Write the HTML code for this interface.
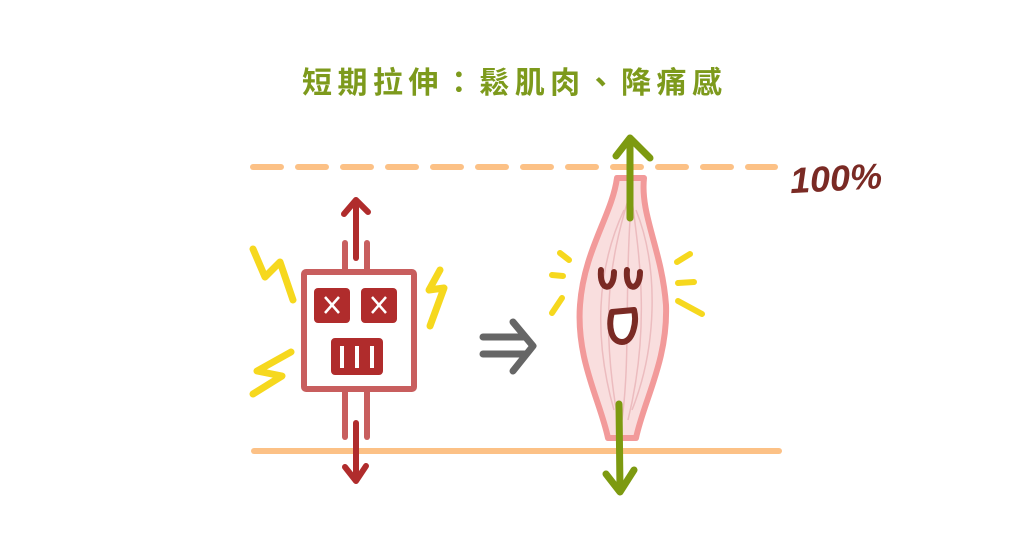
<!DOCTYPE html>
<html><head><meta charset="utf-8"><style>
html,body{margin:0;padding:0;background:#fff;width:1024px;height:536px;overflow:hidden}
</style></head><body>
<svg width="1024" height="536" viewBox="0 0 1024 536" xmlns="http://www.w3.org/2000/svg">
<text x="302" y="93" font-family="'Liberation Sans','Noto Sans CJK TC',sans-serif" font-size="30" font-weight="bold" fill="#7d9a1c" textLength="420" lengthAdjust="spacing">短期拉伸：鬆肌肉、降痛感</text>
<line x1="253" y1="167" x2="775" y2="167" stroke="#fcc186" stroke-width="6" stroke-linecap="round" stroke-dasharray="28 17"/>
<line x1="254" y1="451" x2="779" y2="451" stroke="#fcc186" stroke-width="6" stroke-linecap="round"/>
<text x="790" y="191" font-family="'Liberation Sans',sans-serif" font-size="36" font-weight="bold" font-style="italic" fill="#7a2a24" transform="rotate(-3 830 180)">100%</text>

<g stroke="#c85e5e" stroke-width="6" fill="none" stroke-linecap="round">
<line x1="345" y1="243" x2="345" y2="272"/><line x1="367" y1="243" x2="367" y2="272"/>
<line x1="345" y1="390" x2="345" y2="437"/><line x1="367" y1="390" x2="367" y2="437"/>
<rect x="304" y="272" width="110" height="117" rx="2"/>
</g>
<g fill="#b02c2c">
<rect x="314" y="288" width="36" height="35" rx="4"/>
<rect x="361" y="288" width="36" height="35" rx="4"/>
<rect x="331" y="338" width="52" height="37" rx="4"/>
</g>
<g stroke="#fff" stroke-width="2.5">
<line x1="325" y1="297" x2="339" y2="313"/><line x1="339" y1="297" x2="325" y2="313"/>
<line x1="372" y1="297" x2="386" y2="313"/><line x1="386" y1="297" x2="372" y2="313"/>
</g>
<g fill="#fff"><rect x="340" y="346" width="4" height="22"/><rect x="355" y="346" width="4" height="22"/><rect x="370" y="346" width="4" height="22"/></g>
<g stroke="#b02c2c" stroke-width="6" fill="none" stroke-linecap="round" stroke-linejoin="round">
<line x1="356" y1="258" x2="356" y2="202"/><polyline points="344,214 356,200 368,212"/>
<line x1="356" y1="423" x2="356" y2="480"/><polyline points="345,467 356,481 366,466"/>
</g>
<g stroke="#f6d81e" stroke-width="7" fill="none" stroke-linecap="round" stroke-linejoin="round">
<polyline points="253,249 265,277 280,262 293,300"/>
<polyline points="440,270 429,290 444,288 430,326"/>
<polyline points="291,352 257,371 282,376 253,394"/>
</g>

<g stroke="#666" stroke-width="7" fill="none" stroke-linecap="round" stroke-linejoin="round">
<line x1="483" y1="337" x2="525" y2="337"/><line x1="483" y1="354" x2="525" y2="354"/>
<polyline points="513,322 533,346 513,371"/>
</g>

<path d="M617,178 C612,215 584,250 580,305 C576,360 600,400 608,438 L636,438 C644,400 668,360 666,305 C662,250 640,215 644,178 Z" fill="#f9dede" stroke="#f29a9a" stroke-width="6" stroke-linejoin="round"/>
<g stroke="#e9b4b8" stroke-width="1.5" fill="none" opacity="0.8">
<path d="M628,200 C610,260 600,320 618,420"/><path d="M632,200 C640,260 650,330 628,420"/>
<path d="M624,210 C596,270 594,340 614,410"/><path d="M636,210 C660,270 656,350 632,410"/>
<path d="M630,220 C625,300 630,360 622,420"/>
</g>
<g stroke="#7a2a24" stroke-width="6" fill="none" stroke-linecap="round">
<path d="M601,270 C599,292 614,292 614,272"/>
<path d="M627,270 C625,292 640,292 640,272"/>
</g>
<path d="M612,312 C608,326 611,342 622,342 C633,342 637,322 634,310 Z" fill="#fff" stroke="#7a2a24" stroke-width="6" stroke-linejoin="round"/>
<g stroke="#f6d81e" stroke-width="6" fill="none" stroke-linecap="round">
<line x1="560" y1="253" x2="569" y2="260"/><line x1="552" y1="275" x2="563" y2="276"/><line x1="552" y1="313" x2="562" y2="298"/>
<line x1="677" y1="262" x2="690" y2="254"/><line x1="678" y1="283" x2="694" y2="282"/><line x1="678" y1="301" x2="702" y2="314"/>
</g>
<g stroke="#7d9a10" stroke-width="7" fill="none" stroke-linecap="round" stroke-linejoin="round">
<line x1="630" y1="218" x2="630" y2="140"/><polyline points="616,156 630,138 650,158"/>
<line x1="619" y1="404" x2="620" y2="490"/><polyline points="606,474 620,492 634,470"/>
</g>
</svg>
</body></html>
